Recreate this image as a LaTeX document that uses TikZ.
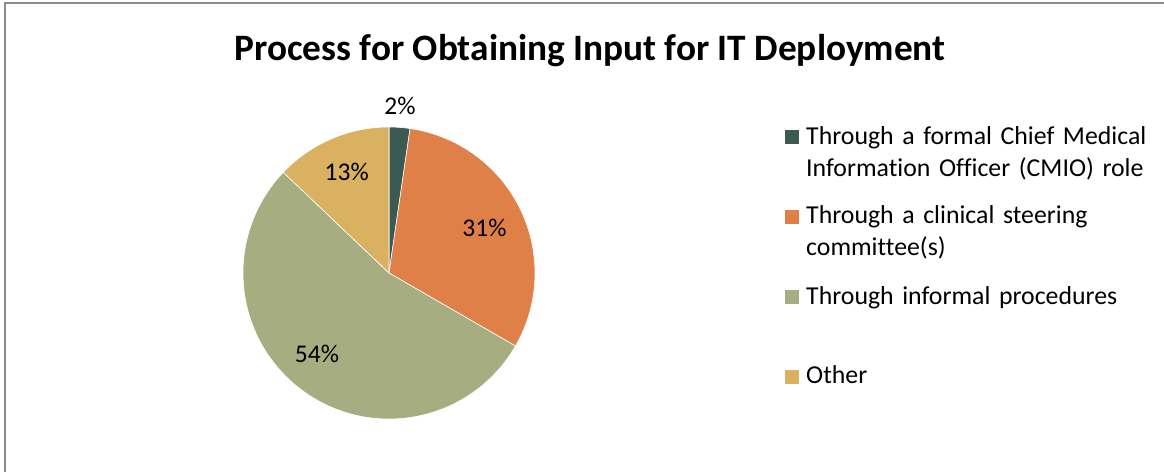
\documentclass[tikz,border=0pt]{standalone}
\usepackage{fontspec}
\setmainfont{Carlito}[Ligatures=NoCommon]
\definecolor{cDark}{HTML}{3C5A51}
\definecolor{cOrange}{HTML}{DE8048}
\definecolor{cGreen}{HTML}{A6AD81}
\definecolor{cGold}{HTML}{D9B161}
\definecolor{cFrame}{HTML}{8C8C8C}
\begin{document}
\begin{tikzpicture}[x=1pt,y=1pt,
  frame/.style={draw=cFrame,line width=2pt},
  slice/.style={draw=white,line width=0.6pt},
  pct/.style={anchor=base,inner sep=0pt,font=\fontsize{25.5}{30}\selectfont},
  legtext/.style={anchor=base west,inner sep=0pt,text width=360pt,align=left,font=\fontsize{25.8}{32.4}\selectfont},
  legmark/.style={minimum size=14pt,inner sep=0pt}]
\useasboundingbox (0,0) rectangle (1164,471);
\draw[frame] (5,-10) -- (5,467.5) -- (1180,467.5);
\node[anchor=base,inner sep=0pt,font=\bfseries\fontsize{37.3}{44}\selectfont] (title) at (590,410.5) {Process for Obtaining Input for IT Deployment};
\coordinate (c) at (389,198);
\fill[cDark,slice]   (c) -- ++(90:146) arc[start angle=90,end angle=81.7,radius=146] -- cycle;
\fill[cOrange,slice] (c) -- ++(81.7:146) arc[start angle=81.7,end angle=-30,radius=146] -- cycle;
\fill[cGreen,slice]  (c) -- ++(-30:146) arc[start angle=-30,end angle=-223.6,radius=146] -- cycle;
\fill[cGold,slice]   (c) -- ++(136.4:146) arc[start angle=136.4,end angle=90,radius=146] -- cycle;
\node[pct] (p1) at (400,356) {2\%};
\node[pct] (p2) at (484.5,234.3) {31\%};
\node[pct] (p3) at (317,108.3) {54\%};
\node[pct] (p4) at (346.7,290.3) {13\%};
\node[legmark,fill=cDark]   (m1) at (792,334.3) {};
\node[legmark,fill=cOrange] (m2) at (792,254.3) {};
\node[legmark,fill=cGreen]  (m3) at (792,173.7) {};
\node[legmark,fill=cGold]   (m4) at (792,93.5) {};
\node[legtext] (l1) at (806,326.7) {Through a formal Chief Medical\\Information Officer (CMIO) role};
\node[legtext] (l2) at (806,247.7) {Through a clinical steering\\committee(s)};
\node[legtext] (l3) at (806,166.7) {Through informal procedures};
\node[legtext] (l4) at (806,87.7) {Other};
\end{tikzpicture}
\end{document}
